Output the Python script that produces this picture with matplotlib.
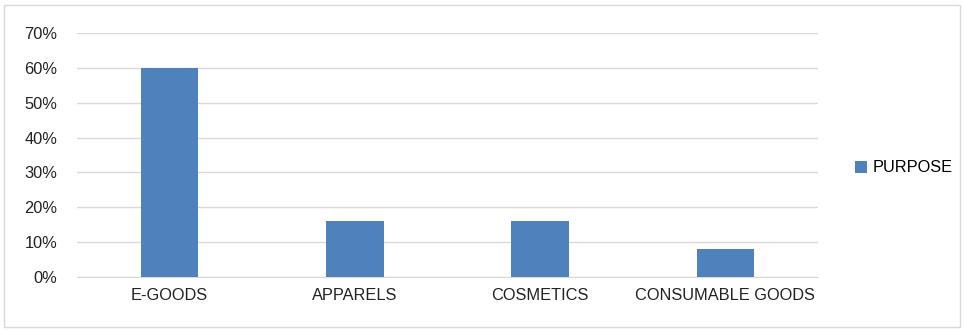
import matplotlib.pyplot as plt
from matplotlib.patches import Rectangle

categories = ['E-GOODS', 'APPARELS', 'COSMETICS', 'CONSUMABLE GOODS']
purpose = [0.60, 0.16, 0.16, 0.08]
ticks = [0, 0.1, 0.2, 0.3, 0.4, 0.5, 0.6, 0.7]

plt.rcParams['font.family'] = ['Liberation Sans', 'DejaVu Sans']
fig = plt.figure(figsize=(9.64, 3.31), dpi=100)
# outer chart border
fig.patches.append(Rectangle((4 / 964, 4 / 331), 956 / 964, 322 / 331, transform=fig.transFigure,
                             fill=False, edgecolor='#d9d9d9', linewidth=1))

ax = fig.add_axes([77 / 964, 54 / 331, 741 / 964, 244 / 331])
x = range(len(categories))
ax.bar(x, purpose, width=0.31, color='#4f81bd', label='PURPOSE', zorder=3)
ax.set_xlim(-0.5, 3.5)
ax.set_ylim(0, 0.7)
ax.set_yticks(ticks)
ax.set_yticklabels([f'{int(round(t * 100))}%' for t in ticks])
ax.set_xticks(list(x))
ax.set_xticklabels(categories)
ax.grid(axis='y', color='#d9d9d9', linewidth=1, zorder=0)
for s in ['top', 'right', 'left']:
    ax.spines[s].set_visible(False)
ax.spines['bottom'].set_color('#d9d9d9')
ax.tick_params(length=0, labelsize=11.8, colors='#222222', pad=8)
ax.tick_params(axis='y', pad=14)

ax.legend(loc='center left', bbox_to_anchor=(1.03, 0.447), frameon=False, fontsize=11.8,
          handlelength=0.75, handleheight=0.75, handletextpad=0.35)

fig.savefig('out.png', dpi=100)
